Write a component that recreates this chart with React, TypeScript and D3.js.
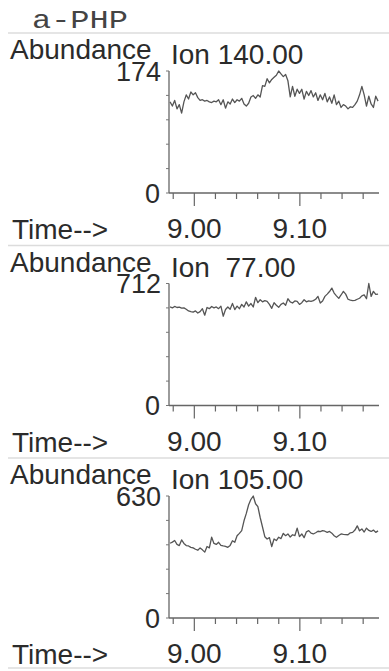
import React from 'react';
import * as d3 from 'd3';

// extracted ion chromatograms, a-PHP
const title = 'a-PHP';
const ions = ['Ion 140.00', 'Ion  77.00', 'Ion 105.00'];
const maxAbund = [174, 712, 630];
const xTicksMajor = [9.0, 9.1];
const xTicksMinor = [8.98, 9.02, 9.04, 9.06, 9.08, 9.12, 9.14, 9.16];

// scan times: first scan and scan interval (min)
const scanStart = 8.977;
const scanStep = 0.00219;

const ion140 = [
  130, 124, 132, 120, 126, 114, 130, 140, 134, 144, 140, 143, 136, 132, 133, 131,
  132, 130, 129, 131, 130, 133, 126, 133, 121, 130, 127, 134, 129, 133, 131, 135,
  127, 124, 128, 137, 139, 135, 140, 137, 153, 152, 163, 157, 162, 165, 168, 174,
  170, 166, 169, 160, 137, 152, 138, 148, 142, 148, 134, 145, 139, 146, 137, 143,
  132, 140, 133, 142, 130, 137, 128, 140, 126, 131, 122, 126, 124, 120, 123, 122,
  126, 131, 140, 152, 140, 124, 138, 127, 122, 138, 131,
];

const ion77 = [
  575, 570, 578, 572, 574, 568, 570, 562, 552, 548, 545, 552, 540, 548, 565, 527,
  572, 565, 578, 570, 575, 565, 580, 521, 560, 575, 562, 596, 560, 580, 565, 590,
  575, 605, 580, 595, 575, 631, 600, 617, 605, 612, 608, 590, 567, 600, 585, 573,
  590, 598, 585, 623, 605, 598, 610, 608, 590, 600, 617, 605, 610, 608, 612, 620,
  637, 598, 610, 637, 650, 665, 685, 656, 640, 625, 645, 666, 650, 620, 615, 612,
  614, 620, 626, 640, 646, 623, 712, 637, 666, 648, 650,
];

const ion105 = [
  386, 392, 400, 380, 374, 403, 385, 374, 372, 365, 362, 355, 350, 362, 352, 340,
  369, 362, 417, 385, 380, 391, 375, 372, 370, 365, 375, 399, 391, 425, 437, 451,
  502, 540, 585, 613, 630, 590, 575, 519, 470, 420, 408, 415, 369, 408, 400, 417,
  410, 437, 425, 434, 418, 430, 425, 464, 420, 434, 415, 445, 451, 438, 434, 440,
  448, 446, 451, 448, 442, 447, 438, 425, 417, 426, 434, 432, 431, 430, 440, 442,
  454, 476, 450, 460, 444, 464, 452, 447, 454, 442, 450,
];

const series = [ion140, ion77, ion105];

const W = 389;
const H = 671;
const panelH = 212.5;
const firstTop = 33;
const font = "'Liberation Sans', Arial, sans-serif";
const fs = 28;
const ink = '#2b2b2b';

function Panel({ idx }: { idx: number }) {
  const y0 = firstTop + idx * panelH;
  const values = series[idx];
  const x = d3.scaleLinear().domain([8.976, 9.175]).range([169, 379]);
  const y = d3.scaleLinear().domain([0, maxAbund[idx]]).range([y0 + 160, y0 + 38]);
  const pts = values.map((v, i) => [scanStart + i * scanStep, v] as [number, number]);
  const line = d3.line<[number, number]>().x(d => x(d[0])).y(d => y(d[1]));
  const yTicks = d3.range(0, 6).map(k => (maxAbund[idx] * k) / 5);
  const base = y(0);
  const left = x.range()[0];

  return (
    <g>
      <line x1={8} x2={W} y1={y0} y2={y0} stroke="#dcdcdc" strokeWidth={1.5} />
      <text x={10} y={y0 + 26} fontSize={fs} fill={ink} fontFamily={font}>Abundance</text>
      <text x={171} y={y0 + 31} fontSize={fs} fill={ink} fontFamily={font} style={{ whiteSpace: 'pre' }}>
        {ions[idx]}
      </text>
      {/* y axis */}
      <line x1={left} x2={left} y1={y(maxAbund[idx])} y2={base} stroke="#666" strokeWidth={1.3} />
      {yTicks.map((t, k) => (
        <line key={k} x1={left - 3} x2={left} y1={y(t)} y2={y(t)} stroke="#777" strokeWidth={1} />
      ))}
      <text x={161} y={y(maxAbund[idx])} dy="0.36em" textAnchor="end" fontSize={fs - 1} fill={ink} fontFamily={font}>
        {maxAbund[idx]}
      </text>
      <text x={160} y={base} dy="0.36em" textAnchor="end" fontSize={fs - 1} fill={ink} fontFamily={font}>0</text>
      {/* x axis */}
      <line x1={left} x2={x.range()[1]} y1={base} y2={base} stroke="#666" strokeWidth={1.3} />
      {xTicksMinor.map(t => (
        <line key={t} x1={x(t)} x2={x(t)} y1={base} y2={base + 6} stroke="#666" strokeWidth={1.2} />
      ))}
      {xTicksMajor.map(t => (
        <g key={t}>
          <line x1={x(t)} x2={x(t)} y1={base} y2={base + 13} stroke="#666" strokeWidth={1.2} />
          <text x={x(t)} y={y0 + 205} textAnchor="middle" fontSize={fs} fill={ink} fontFamily={font}>
            {d3.format('.2f')(t)}
          </text>
        </g>
      ))}
      <text x={12} y={y0 + 206} fontSize={fs} fill={ink} fontFamily={font}>Time--&gt;</text>
      <path d={line(pts) || ''} fill="none" stroke="#555" strokeWidth={1.3} strokeLinejoin="round" />
    </g>
  );
}

export default function App() {
  return (
    <svg width={W} height={H} style={{ position: 'absolute', left: 0, top: 0, background: '#fff' }}>
      <rect width={W} height={H} fill="#fff" />
      <text transform="translate(32,28) scale(1.23,1)" fontSize={26} fill="#444"
        fontFamily="'Liberation Mono', 'Courier New', monospace">
        {title}
      </text>
      {[0, 1, 2].map(i => (
        <Panel key={i} idx={i} />
      ))}
      <line x1={8} x2={W} y1={668} y2={668} stroke="#dcdcdc" strokeWidth={1.5} />
    </svg>
  );
}
